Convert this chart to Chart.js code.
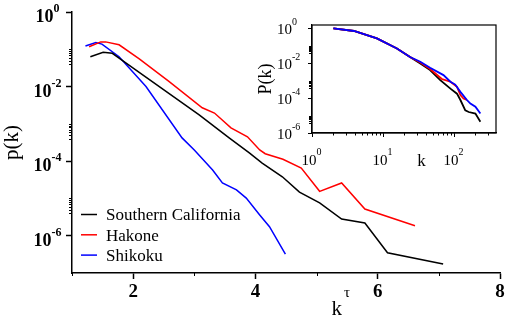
<!DOCTYPE html>
<html>
<head>
<meta charset="utf-8">
<script src="https://cdn.jsdelivr.net/npm/chart.js@4.4.1/dist/chart.umd.min.js"></script>
<style>
    html, body { margin: 0; padding: 0; background: #fff; }
    #wrap { position: relative; width: 510px; height: 317px; }
    #main { position: absolute; left: 0; top: 0; }
    #inset { position: absolute; left: 255px; top: 15px; }
</style>
</head>
<body>
<div id="wrap">
    <canvas id="main" width="510" height="317"></canvas>
    <canvas id="inset" width="250" height="160"></canvas>
</div>
<script>
// main panel: p(k) against k^tau
const socalX = [1.30, 1.51, 1.66, 1.77, 3.08, 3.57, 3.90, 4.11, 4.44, 4.72, 5.05, 5.41, 5.79, 6.16, 7.07];
const socalP = [6.3e-2, 8.3e-2, 7.8e-2, 5.8e-2, 1.74e-3, 4.2e-4, 1.66e-4, 8.9e-5, 3.8e-5, 1.48e-5, 7.6e-6, 2.8e-6, 2.2e-6, 3.5e-7, 1.74e-7];

const hakoneX = [1.28, 1.47, 1.55, 1.77, 2.10, 2.59, 3.13, 3.33, 3.60, 3.87, 4.07, 4.16, 4.45, 4.75, 5.05, 5.41, 5.79, 6.61];
const hakoneP = [0.117, 0.158, 0.158, 0.132, 5.5e-2, 1.35e-2, 2.7e-3, 1.95e-3, 7.8e-4, 4.5e-4, 2.0e-4, 1.58e-4, 1.12e-4, 6.5e-5, 1.55e-5, 2.6e-5, 5.2e-6, 1.86e-6];

const shikokuX = [1.22, 1.39, 1.49, 1.77, 2.21, 2.80, 3.00, 3.30, 3.46, 3.69, 3.85, 4.07, 4.23, 4.49];
const shikokuP = [0.123, 0.151, 0.138, 6.3e-2, 1.0e-2, 4.2e-4, 2.0e-4, 5.8e-5, 2.6e-5, 1.7e-5, 1.02e-5, 3.6e-6, 1.74e-6, 3.2e-7];

const xTicks = [2, 4, 6, 8];
const xMinorTicks = [1, 3, 5, 7];
const yTicks = [1, 1e-2, 1e-4, 1e-6];

// inset: cumulative P(k) against k
const socalK = [2, 3.9, 8.2, 15.7, 24, 33.5, 46, 64, 89, 110, 123, 144, 161, 200, 235];
const socalCum = [1, 0.71, 0.27, 7.1e-2, 2.3e-2, 9.8e-3, 4.1e-3, 1.07e-3, 3.5e-4, 1.8e-4, 7.8e-5, 2.0e-5, 1.6e-5, 1.3e-5, 4.4e-6];

const hakoneK = [2, 3.9, 8.2, 15.7, 24, 33.5, 46, 68, 89, 110, 123, 136, 152];
const hakoneCum = [1, 0.71, 0.27, 7.1e-2, 2.3e-2, 1.12e-2, 4.7e-3, 1.23e-3, 8.7e-4, 4.5e-4, 1.5e-4, 9.5e-5, 7.8e-5];

const shikokuK = [2, 3.9, 8.2, 15.7, 24, 33.5, 46, 71, 89, 104, 123, 152, 170, 200, 235];
const shikokuCum = [1, 0.71, 0.27, 7.1e-2, 2.3e-2, 1.23e-2, 5.5e-3, 2.1e-3, 8.7e-4, 6.0e-4, 2.3e-4, 7.8e-5, 4.9e-5, 3.2e-5, 1.3e-5];

const insetXTicks = [1, 10, 100];
const insetYTicks = [1, 1e-2, 1e-4, 1e-6];

const serif = "'Liberation Serif', 'Times New Roman', serif";

function pts(xs, ys) {
    return xs.map((x, i) => ({ x: x, y: ys[i] }));
}

function tick(ctx, x1, y1, x2, y2) {
    ctx.beginPath();
    ctx.moveTo(x1, y1);
    ctx.lineTo(x2, y2);
    ctx.stroke();
}

// "10" with a raised exponent
function drawPow(ctx, v, x, y, o) {
    const exp = String(Math.round(Math.log10(v)));
    ctx.font = o.base;
    const w1 = ctx.measureText('10').width;
    ctx.font = o.sup;
    const w2 = ctx.measureText(exp).width;
    const x0 = o.align === 'left' ? x : x - (w1 + w2) / 2;
    ctx.textAlign = 'left';
    ctx.textBaseline = 'alphabetic';
    ctx.font = o.base;
    ctx.fillText('10', x0, y + o.baseOff);
    ctx.font = o.sup;
    ctx.fillText(exp, x0 + w1, y + o.supOff);
}

const mainDecor = {
    id: 'mainDecor',
    afterDraw(chart) {
        const { ctx, chartArea: a, scales: { x, y } } = chart;
        ctx.save();
        ctx.strokeStyle = '#000';
        ctx.fillStyle = '#000';
        ctx.lineWidth = 1;
        [-2, -4, -6].forEach(e => {
            for (let m = 4; m <= 10; m++) {
                const py = Math.round(y.getPixelForValue(m * Math.pow(10, e))) + 0.5;
                tick(ctx, a.left - 3, py, a.left, py);
            }
        });
        xMinorTicks.forEach(v => {
            const px = Math.round(x.getPixelForValue(v)) + 0.5;
            tick(ctx, px, a.bottom, px, a.bottom + 3);
        });
        yTicks.forEach(v => {
            drawPow(ctx, v, 47.5, y.getPixelForValue(v), {
                base: 'bold 18px ' + serif, sup: 'bold 12px ' + serif,
                baseOff: 10, supOff: 0, align: 'center'
            });
        });

        // x title k^tau
        ctx.textAlign = 'left';
        ctx.textBaseline = 'alphabetic';
        ctx.font = '21px ' + serif;
        ctx.fillText('k', 331.5, 315);
        ctx.font = '15px ' + serif;
        ctx.fillText('τ', 344, 297);

        // legend
        chart.data.datasets.forEach((ds, i) => {
            const ly = 214.5 + 20.3 * i;
            ctx.strokeStyle = ds.borderColor;
            ctx.lineWidth = 1.5;
            tick(ctx, 81, ly, 97, ly);
            ctx.fillStyle = '#000';
            ctx.font = '17px ' + serif;
            ctx.fillText(ds.label, 106, 220 + 20.5 * i);
        });
        ctx.restore();
    }
};

const insetDecor = {
    id: 'insetDecor',
    beforeDraw(chart) {
        const { ctx, chartArea: a } = chart;
        ctx.save();
        ctx.fillStyle = '#fff';
        ctx.fillRect(a.left, a.top, a.right - a.left, a.bottom - a.top);
        ctx.restore();
    },
    afterDraw(chart) {
        const { ctx, chartArea: a, scales: { x, y } } = chart;
        ctx.save();
        ctx.strokeStyle = '#000';
        ctx.fillStyle = '#000';
        ctx.lineWidth = 1.2;
        ctx.strokeRect(a.left, a.top, a.right - a.left, a.bottom - a.top);
        ctx.lineWidth = 1;
        [-2, -4, -6].forEach(e => {
            for (let m = 4; m <= 10; m++) {
                const py = Math.round(y.getPixelForValue(m * Math.pow(10, e))) + 0.5;
                tick(ctx, a.left - 3, py, a.left, py);
            }
        });
        [1, 10, 100].forEach(d => {
            for (let m = 2; m <= 9; m++) {
                if (m * d > x.max) break;
                const px = Math.round(x.getPixelForValue(m * d)) + 0.5;
                tick(ctx, px, a.bottom, px, a.bottom + 2.5);
            }
        });
        insetYTicks.forEach(v => {
            drawPow(ctx, v, 22, y.getPixelForValue(v), {
                base: '15px ' + serif, sup: '10px ' + serif,
                baseOff: 5.5, supOff: -3, align: 'left'
            });
        });
        insetXTicks.forEach(v => {
            drawPow(ctx, v, x.getPixelForValue(v) - 0.5, 150, {
                base: '15px ' + serif, sup: '10px ' + serif,
                baseOff: 0, supOff: -10, align: 'center'
            });
        });
        ctx.textAlign = 'center';
        ctx.font = '17px ' + serif;
        ctx.fillText('k', 166.5, 151);
        ctx.restore();
    }
};

new Chart(document.getElementById('main'), {
    type: 'line',
    data: {
        datasets: [
            { label: 'Southern California', data: pts(socalX, socalP), borderColor: '#000000', borderWidth: 1.5, pointRadius: 0, tension: 0 },
            { label: 'Hakone', data: pts(hakoneX, hakoneP), borderColor: '#ff0000', borderWidth: 1.5, pointRadius: 0, tension: 0 },
            { label: 'Shikoku', data: pts(shikokuX, shikokuP), borderColor: '#0000ff', borderWidth: 1.5, pointRadius: 0, tension: 0 }
        ]
    },
    options: {
        responsive: false,
        animation: false,
        layout: { padding: { top: 12, right: 10, left: 0, bottom: 0 } },
        plugins: { legend: { display: false }, tooltip: { enabled: false } },
        scales: {
            x: {
                type: 'linear',
                min: 1,
                max: 8,
                afterBuildTicks: s => { s.ticks = xTicks.map(v => ({ value: v })); },
                afterFit: s => { s.height = 44; },
                ticks: { color: '#000', padding: 2, font: { family: serif, size: 19, weight: 'bold' } },
                grid: { drawOnChartArea: false, tickLength: 6, tickColor: '#000', tickWidth: 1.5 },
                border: { color: '#000', width: 1.5 }
            },
            y: {
                type: 'logarithmic',
                min: 1e-7,
                max: 1,
                afterBuildTicks: s => { s.ticks = yTicks.map(v => ({ value: v })); },
                afterFit: s => { s.width = 72; },
                ticks: { display: false },
                grid: { drawOnChartArea: false, tickLength: 6, tickColor: '#000', tickWidth: 1.5 },
                border: { color: '#000', width: 1.5 },
                title: { display: true, text: 'p(k)', color: '#000', padding: 0, font: { family: serif, size: 21 } }
            }
        }
    },
    plugins: [mainDecor]
});

new Chart(document.getElementById('inset'), {
    type: 'line',
    data: {
        datasets: [
            { label: 'Southern California', data: pts(socalK, socalCum), borderColor: '#000000', borderWidth: 1.8, pointRadius: 0, order: 2 },
            { label: 'Hakone', data: pts(hakoneK, hakoneCum), borderColor: '#ff0000', borderWidth: 1.8, pointRadius: 0, order: 1 },
            { label: 'Shikoku', data: pts(shikokuK, shikokuCum), borderColor: '#0000ff', borderWidth: 1.8, pointRadius: 0, order: 0 }
        ]
    },
    options: {
        responsive: false,
        animation: false,
        layout: { padding: { top: 10, right: 9, left: 0, bottom: 0 } },
        plugins: { legend: { display: false }, tooltip: { enabled: false } },
        scales: {
            x: {
                type: 'logarithmic',
                min: 1,
                max: 390,
                afterBuildTicks: s => { s.ticks = insetXTicks.map(v => ({ value: v })); },
                afterFit: s => { s.height = 42; },
                ticks: { display: false },
                grid: { drawOnChartArea: false, tickLength: 4, tickColor: '#000' },
                border: { color: '#000', width: 1.2 }
            },
            y: {
                type: 'logarithmic',
                min: 1e-6,
                max: 1.57,
                afterBuildTicks: s => { s.ticks = insetYTicks.map(v => ({ value: v })); },
                afterFit: s => { s.width = 57; },
                ticks: { display: false },
                grid: { drawOnChartArea: false, tickLength: 4, tickColor: '#000' },
                border: { color: '#000', width: 1.2 },
                title: { display: true, text: 'P(k)', color: '#000', padding: 0, font: { family: serif, size: 18 } }
            }
        }
    },
    plugins: [insetDecor]
});
</script>
</body>
</html>
